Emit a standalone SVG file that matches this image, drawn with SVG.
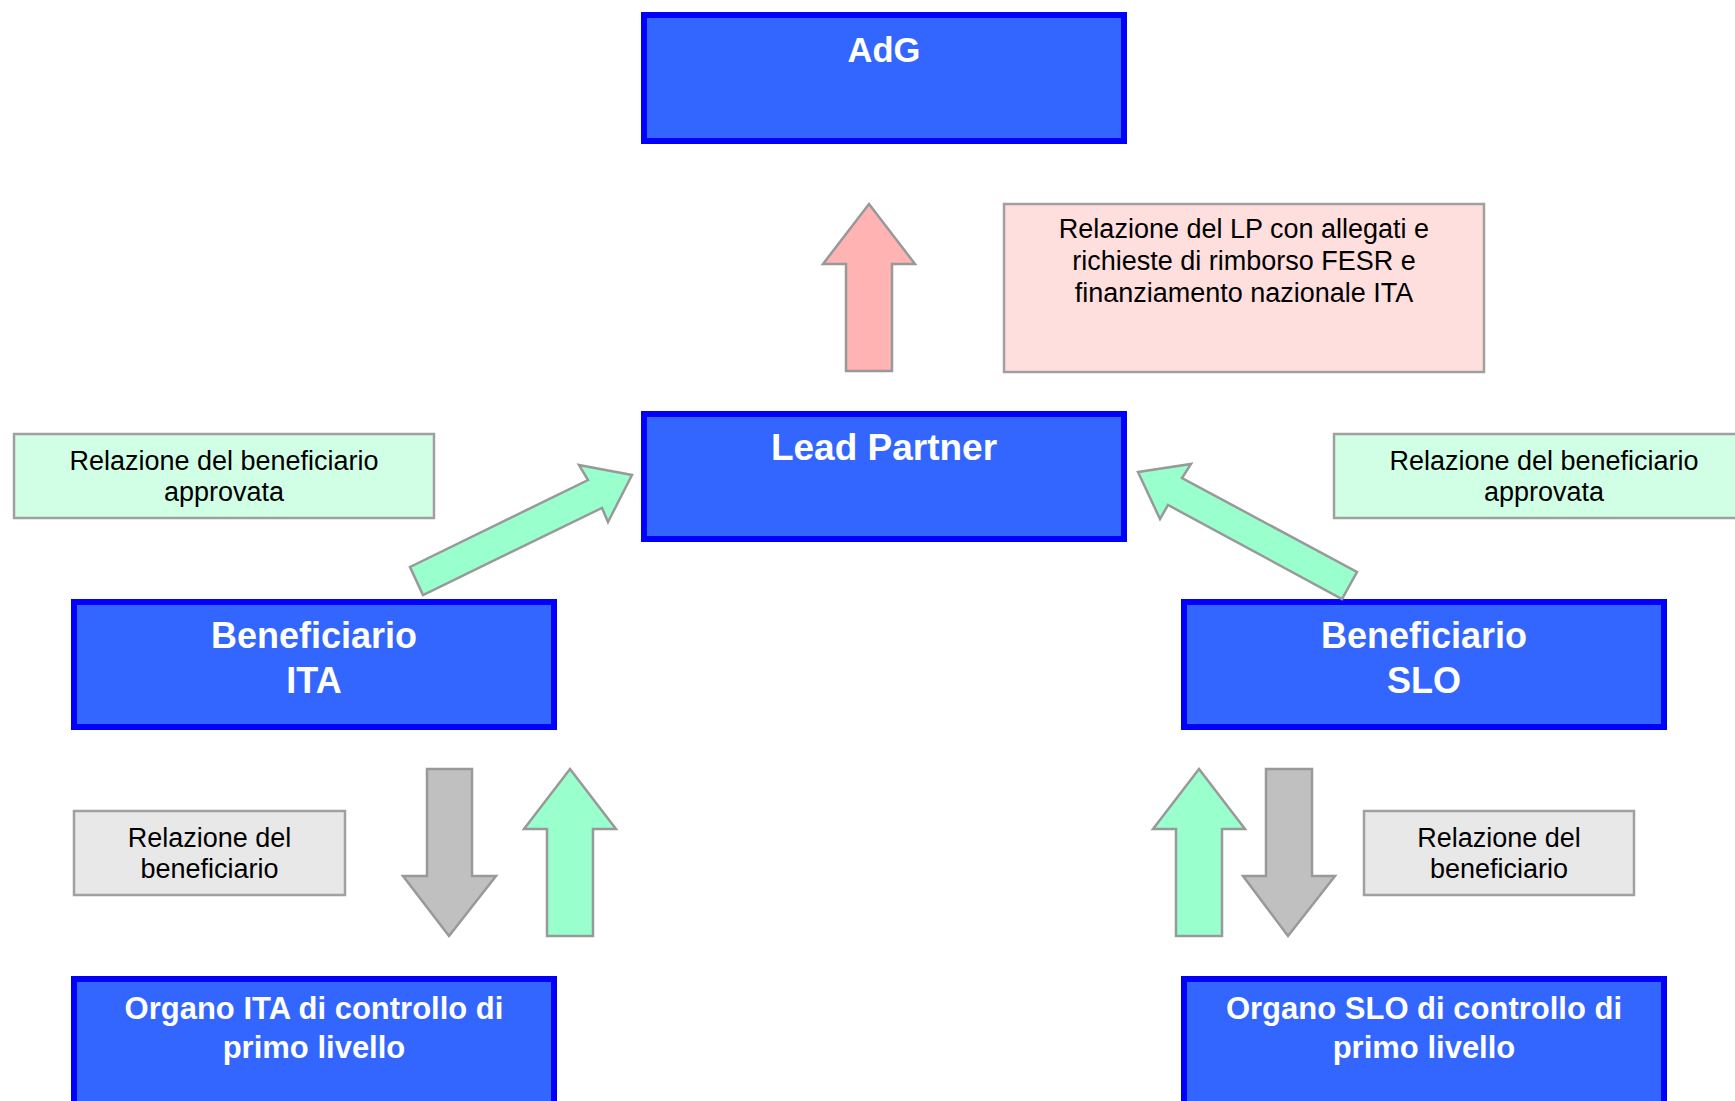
<svg xmlns="http://www.w3.org/2000/svg" width="1735" height="1101" viewBox="0 0 1735 1101">
  <style>
    .node { fill: #3366FF; stroke: #0000FF; stroke-width: 6; }
    .title { font-family: "Liberation Sans", Arial, sans-serif; font-weight: bold; fill: #FFFFFF; text-anchor: middle; }
    .lbl { font-family: "Liberation Sans", Arial, sans-serif; font-size: 27px; fill: #000000; text-anchor: middle; }
    .box { stroke: #A0A0A0; stroke-width: 2.5; }
    .arrow { stroke: #999999; stroke-width: 2.5; stroke-linejoin: miter; }
    .pink { fill: #FFB3B3; }
    .green { fill: #99FFCC; }
    .grey { fill: #C0C0C0; }
  </style>
  <rect width="1735" height="1101" fill="#FFFFFF"/>

  <g id="node-adg">
    <rect class="node" x="644" y="15" width="480" height="126"/>
    <text class="title" x="884" y="62" font-size="34.5">AdG</text>
  </g>
  <g id="node-lead-partner">
    <rect class="node" x="644" y="414" width="480" height="125"/>
    <text class="title" x="884" y="460" font-size="37">Lead Partner</text>
  </g>
  <g id="node-beneficiario-ita">
    <rect class="node" x="74" y="602" width="480" height="125"/>
    <text class="title" x="314" y="648" font-size="36">Beneficiario</text>
    <text class="title" x="314" y="693" font-size="36">ITA</text>
  </g>
  <g id="node-beneficiario-slo">
    <rect class="node" x="1184" y="602" width="480" height="125"/>
    <text class="title" x="1424" y="648" font-size="36">Beneficiario</text>
    <text class="title" x="1424" y="693" font-size="36">SLO</text>
  </g>
  <g id="node-organo-ita">
    <rect class="node" x="74" y="979" width="480" height="140"/>
    <text class="title" x="314" y="1019" font-size="31">Organo ITA di controllo di</text>
    <text class="title" x="314" y="1058" font-size="31">primo livello</text>
  </g>
  <g id="node-organo-slo">
    <rect class="node" x="1184" y="979" width="480" height="140"/>
    <text class="title" x="1424" y="1019" font-size="31">Organo SLO di controllo di</text>
    <text class="title" x="1424" y="1058" font-size="31">primo livello</text>
  </g>

  <g id="label-lp">
    <rect class="box" x="1004" y="204" width="480" height="168" fill="#FFDEDE"/>
    <text class="lbl" x="1244" y="238">Relazione del LP con allegati e</text>
    <text class="lbl" x="1244" y="270">richieste di rimborso FESR e</text>
    <text class="lbl" x="1244" y="302">finanziamento nazionale ITA</text>
  </g>
  <g id="label-approvata-ita">
    <rect class="box" x="14" y="434" width="420" height="84" fill="#D1FFE6"/>
    <text class="lbl" x="224" y="470">Relazione del beneficiario</text>
    <text class="lbl" x="224" y="501">approvata</text>
  </g>
  <g id="label-approvata-slo">
    <rect class="box" x="1334" y="434" width="420" height="84" fill="#D1FFE6"/>
    <text class="lbl" x="1544" y="470">Relazione del beneficiario</text>
    <text class="lbl" x="1544" y="501">approvata</text>
  </g>
  <g id="label-relazione-ita">
    <rect class="box" x="74" y="811" width="271" height="84" fill="#E8E8E8"/>
    <text class="lbl" x="209.5" y="847">Relazione del</text>
    <text class="lbl" x="209.5" y="878">beneficiario</text>
  </g>
  <g id="label-relazione-slo">
    <rect class="box" x="1364" y="811" width="270" height="84" fill="#E8E8E8"/>
    <text class="lbl" x="1499" y="847">Relazione del</text>
    <text class="lbl" x="1499" y="878">beneficiario</text>
  </g>

  <g id="connectors">
    <polygon class="arrow pink" points="869,204 915,264 892,264 892,371 846,371 846,264 823,264"/>
    <polygon class="arrow green" points="632,475 608,522 602,508 423,595 410,567 588,480 579,465"/>
    <polygon class="arrow green" points="1138,472 1191,464 1182,478 1357,572 1342,599 1168,505 1160,519"/>
    <polygon class="arrow grey" points="427,769 472,769 472,876 496,876 449,936 403,876 427,876"/>
    <polygon class="arrow green" points="570,769 616,829 593,829 593,936 547,936 547,829 524,829"/>
    <polygon class="arrow green" points="1199,769 1245,829 1222,829 1222,936 1176,936 1176,829 1153,829"/>
    <polygon class="arrow grey" points="1266,769 1312,769 1312,876 1335,876 1288,936 1243,876 1266,876"/>
  </g>
</svg>
